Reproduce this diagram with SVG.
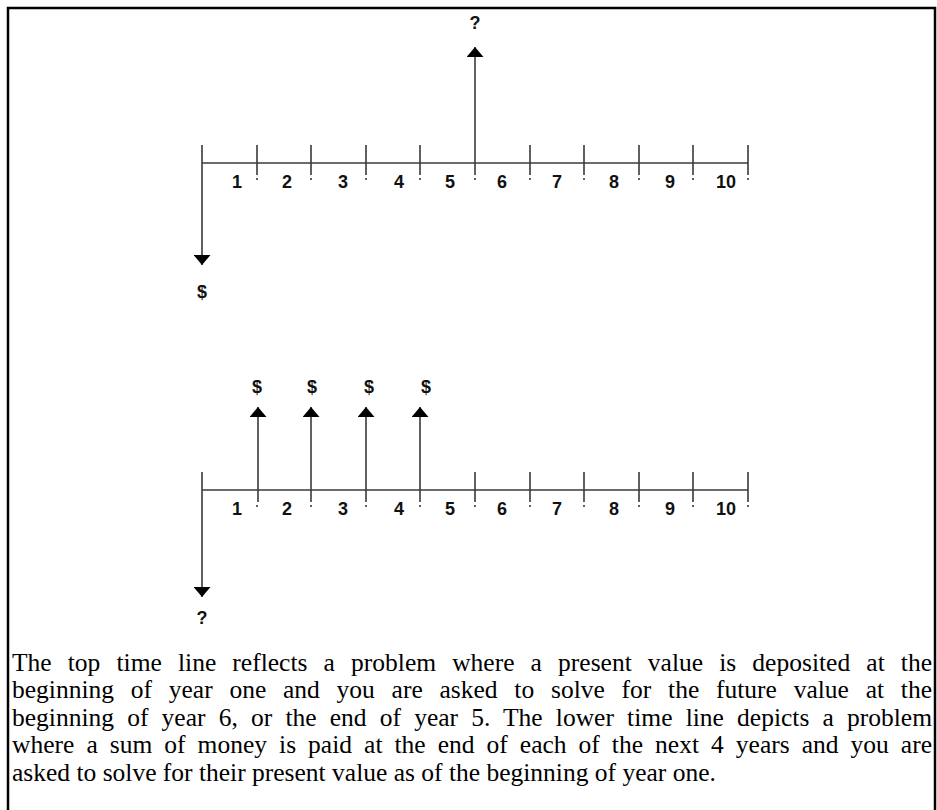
<svg xmlns="http://www.w3.org/2000/svg" width="937" height="810" viewBox="0 0 937 810">
<defs>
<style>
.ln{stroke:#3a3a3a;stroke-width:1.6;fill:none}
.lbl{font-family:"Liberation Sans",Arial,sans-serif;font-weight:bold;font-size:18px;fill:#111;text-anchor:middle}
.para{font-family:"Liberation Serif","Times New Roman",serif;font-size:25.5px;fill:#000}
</style>
<marker id="ah" viewBox="0 0 10 17" refX="10" refY="8.5" markerWidth="10" markerHeight="17" markerUnits="userSpaceOnUse" orient="auto">
<path d="M0,0 L10,8.5 L0,17 Z" fill="#000"/>
</marker>
</defs>
<rect x="8" y="8" width="927" height="820" fill="#fff" stroke="#000" stroke-width="2.5"/>

<g id="top-timeline">
<line class="ln" x1="202" y1="163" x2="748" y2="163"/>
<path class="ln" d="M257,145V175M311,145V175M366,145V175M420,145V175M530,145V175M584,145V175M639,145V175M693,145V175M748,145V175"/>
<path class="ln" d="M257,178V180M311,178V180M366,178V180M420,178V180M475,178V180M530,178V180M584,178V180M639,178V180M693,178V180M748,178V180"/>
<g class="lbl">
<text x="237" y="188">1</text><text x="287" y="188">2</text><text x="343" y="188">3</text><text x="399" y="188">4</text><text x="450" y="188">5</text>
<text x="502" y="188">6</text><text x="557" y="188">7</text><text x="614" y="188">8</text><text x="670" y="188">9</text><text x="726" y="188">10</text>
</g>
</g>
<g id="top-pv">
<line class="ln" x1="202" y1="145" x2="202" y2="265" marker-end="url(#ah)"/>
<text class="lbl" x="202" y="298">$</text>
</g>
<g id="top-fv">
<line class="ln" x1="475" y1="175" x2="475" y2="47" marker-end="url(#ah)"/>
<text class="lbl" x="475" y="29">?</text>
</g>

<g id="bottom-timeline">
<line class="ln" x1="202" y1="490" x2="748" y2="490"/>
<path class="ln" d="M475,472V502M530,472V502M584,472V502M639,472V502M693,472V502M748,472V502"/>
<path class="ln" d="M257,505V507M311,505V507M366,505V507M420,505V507M475,505V507M530,505V507M584,505V507M639,505V507M693,505V507M748,505V507"/>
<g class="lbl">
<text x="237" y="515">1</text><text x="287" y="515">2</text><text x="343" y="515">3</text><text x="399" y="515">4</text><text x="450" y="515">5</text>
<text x="502" y="515">6</text><text x="557" y="515">7</text><text x="614" y="515">8</text><text x="670" y="515">9</text><text x="726" y="515">10</text>
</g>
</g>
<g id="bottom-pv">
<line class="ln" x1="202" y1="472" x2="202" y2="597" marker-end="url(#ah)"/>
<text class="lbl" x="202" y="624">?</text>
</g>
<g id="payments">
<line class="ln" x1="258" y1="502" x2="258" y2="407" marker-end="url(#ah)"/>
<line class="ln" x1="311" y1="502" x2="311" y2="407" marker-end="url(#ah)"/>
<line class="ln" x1="366" y1="502" x2="366" y2="407" marker-end="url(#ah)"/>
<line class="ln" x1="420" y1="502" x2="420" y2="407" marker-end="url(#ah)"/>
<text class="lbl" x="257" y="393">$</text><text class="lbl" x="312" y="393">$</text><text class="lbl" x="369" y="393">$</text><text class="lbl" x="426" y="393">$</text>
</g>

<g id="caption" class="para">
<text x="12" y="671" word-spacing="9.7" textLength="920" lengthAdjust="spacing">The top time line reflects a problem where a present value is deposited at the</text>
<text x="12" y="698" word-spacing="10.4" textLength="920" lengthAdjust="spacing">beginning of year one and you are asked to solve for the future value at the</text>
<text x="12" y="726" word-spacing="6.8" textLength="920" lengthAdjust="spacing">beginning of year 6, or the end of year 5. The lower time line depicts a problem</text>
<text x="12" y="753" word-spacing="5.6" textLength="920" lengthAdjust="spacing">where a sum of money is paid at the end of each of the next 4 years and you are</text>
<text x="12" y="781">asked to solve for their present value as of the beginning of year one.</text>
</g>
</svg>
